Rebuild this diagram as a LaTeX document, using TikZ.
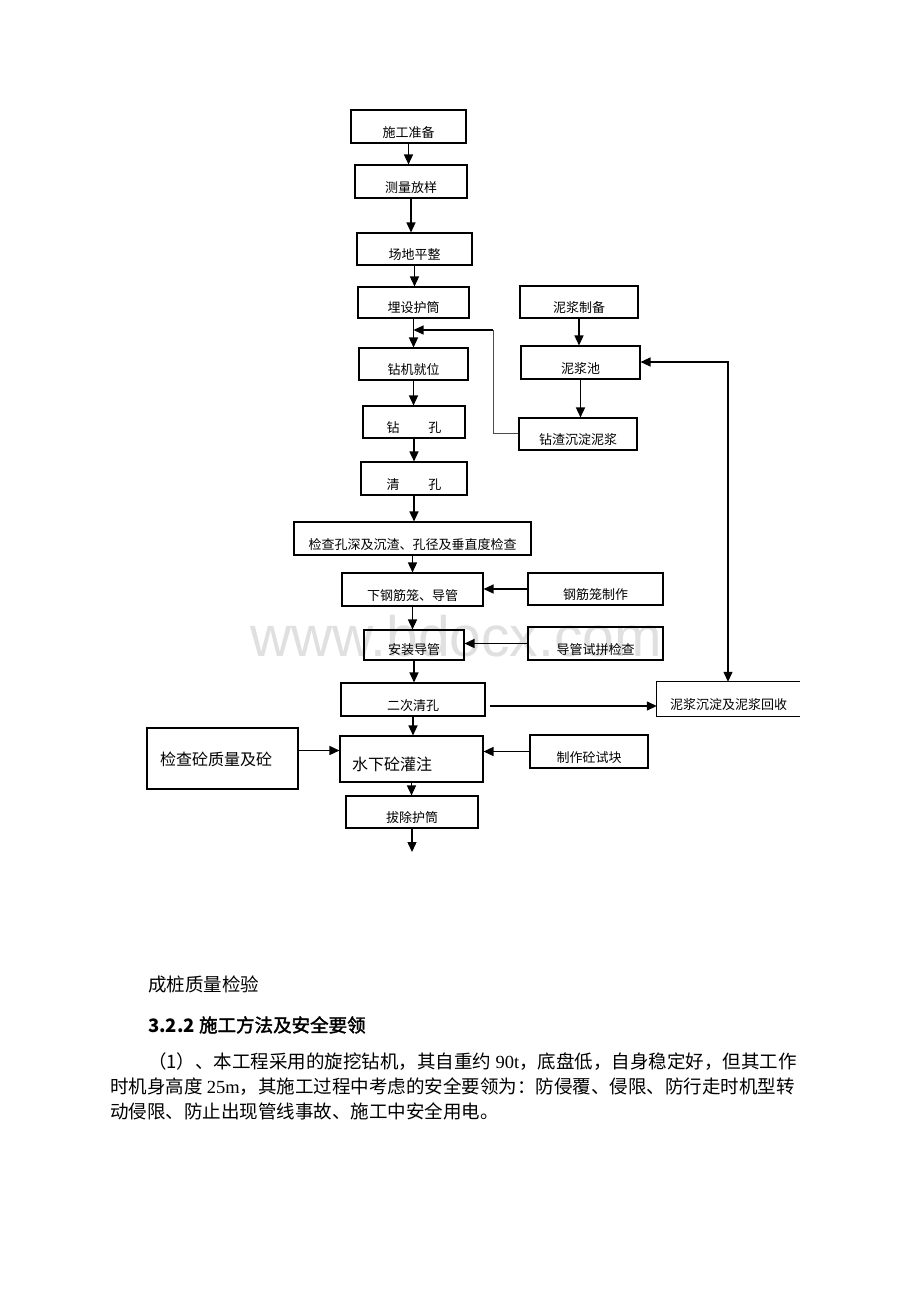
\documentclass[tikz,border=0pt]{standalone}
\usepackage{fontspec}
\setmainfont{Liberation Serif}
\newfontfamily\cjk{Noto Sans CJK SC}
\newfontfamily\cjkb[FakeBold=2]{Noto Sans CJK SC}
\newfontfamily\wmfont{Liberation Sans}
\usetikzlibrary{arrows.meta,calc}
\tikzset{
  bx/.style={draw=black, line width=1.1pt, inner sep=0pt},
  txt/.style={font=\cjk\fontsize{13pt}{15pt}\selectfont, inner sep=0pt},
  arr/.style={draw=black, line width=1.4pt, -{Triangle[length=10pt,width=9pt]}},
  dbl/.style={draw=black, line width=1.2pt, {Triangle[length=10pt,width=9pt]}-{Triangle[length=10pt,width=9pt]}},
  thinl/.style={draw=black!70, line width=0.6pt},
  para/.style={font=\cjk\fontsize{18.5pt}{21pt}\selectfont, inner sep=0pt, anchor=base west}
}
\begin{document}
\begin{tikzpicture}[x=1pt,y=-1pt]
\useasboundingbox[fill=white] (0,0) rectangle (920,1302);
% watermark
\node[font=\wmfont\fontsize{57pt}{60pt}\selectfont, text=black!12, anchor=base west, inner sep=0pt] (wm) at (250,656) {www.bdocx.com};

% main column
\node[bx, minimum width=115pt, minimum height=33pt] (b1) at (408.5,126.5) {};
\node[bx, minimum width=112pt, minimum height=33pt] (b2) at (411,181.5) {};
\node[bx, minimum width=115pt, minimum height=32pt] (b3) at (414.5,249) {};
\node[bx, minimum width=111pt, minimum height=31pt] (b4) at (413.5,302.5) {};
\node[bx, minimum width=109pt, minimum height=32pt] (b5) at (413.5,364) {};
\node[bx, minimum width=102pt, minimum height=32pt] (b6) at (414,422) {};
\node[bx, minimum width=106pt, minimum height=33pt] (b7) at (414,478.5) {};
\node[bx, minimum width=237pt, minimum height=33pt] (b8) at (412.5,538.5) {};
\node[bx, minimum width=141pt, minimum height=33pt] (b9) at (412.5,589.5) {};
\node[bx, minimum width=100pt, minimum height=30pt] (b10) at (414,645) {};
\node[bx, minimum width=144pt, minimum height=33pt] (b11) at (413,699.5) {};
\node[bx, minimum width=143pt, minimum height=46pt] (b12) at (411.5,759) {};
\node[bx, minimum width=132pt, minimum height=32pt] (b13) at (412,812) {};

% right column (mud)
\node[bx, minimum width=118pt, minimum height=32pt] (r1) at (579,302) {};
\node[bx, minimum width=119pt, minimum height=33pt] (r2) at (580.5,362.5) {};
\node[bx, minimum width=118pt, minimum height=32pt] (r3) at (578,434) {};

% side boxes
\node[bx, minimum width=135pt, minimum height=32pt] (s1) at (595.5,589) {};
\node[bx, minimum width=135pt, minimum height=33pt] (s2) at (595.5,643.5) {};
\node[bx, minimum width=118pt, minimum height=33pt] (s4) at (589,751.5) {};
\node[bx, minimum width=151pt, minimum height=61pt] (lb) at (222.5,758.5) {};
% open-ended box on the right
\node[minimum width=143pt, minimum height=34pt, inner sep=0pt] (s3) at (728.5,699) {};
\draw[line width=1.1pt] (s3.north east) -- (s3.north west) -- (s3.south west) -- (s3.south east);

% texts
\node[txt] (t1) at ([yshift=11pt]b1.south) {施工准备};
\node[txt] (t2) at ([yshift=11pt]b2.south) {测量放样};
\node[txt] (t3) at ([yshift=11pt]b3.south) {场地平整};
\node[txt] (t4) at ([yshift=11pt]b4.south) {埋设护筒};
\node[txt] (t5) at ([yshift=11pt]b5.south) {钻机就位};
\node[txt] (t6) at ([yshift=11pt]b6.south) {钻\hspace{2.2em}孔};
\node[txt] (t7) at ([yshift=11pt]b7.south) {清\hspace{2.2em}孔};
\node[txt] (t8) at ([yshift=11pt]b8.south) {检查孔深及沉渣、孔径及垂直度检查};
\node[txt] (t9) at ([yshift=11pt]b9.south) {下钢筋笼、导管};
\node[txt] (t10) at ([yshift=11pt]b10.south) {安装导管};
\node[txt] (t11) at ([yshift=11pt]b11.south) {二次清孔};
\node[txt] (t13) at ([yshift=11pt]b13.south) {拔除护筒};
\node[txt] (tr1) at ([yshift=11pt]r1.south) {泥浆制备};
\node[txt] (tr2) at ([yshift=11pt]r2.south) {泥浆池};
\node[txt] (tr3) at ([yshift=11pt]r3.south) {钻渣沉淀泥浆};
\node[txt] (ts1) at ([yshift=11pt]s1.south) {钢筋笼制作};
\node[txt] (ts2) at ([yshift=11pt]s2.south) {导管试拼检查};
\node[txt] (ts3) at ([yshift=12pt]s3.south) {泥浆沉淀及泥浆回收};
\node[txt] (ts4) at ([yshift=11pt]s4.south) {制作砼试块};
\node[txt, anchor=west, font=\cjk\fontsize{16pt}{18pt}\selectfont] (t12) at (352,764) {水下砼灌注};
\node[txt, anchor=west, font=\cjk\fontsize{16pt}{18pt}\selectfont] (tl) at (160,759) {检查砼质量及砼};

% main arrows
\draw[arr] (b1.south) -- (b1.south |- b2.north);
\draw[arr] (b2.south) -- (b2.south |- b3.north);
\draw[arr] (b3.south) -- (b3.south |- b4.north);
\draw[arr] (b4.south) -- (b4.south |- b5.north);
\draw[arr] (b5.south) -- (b5.south |- b6.north);
\draw[arr] (b6.south) -- (b6.south |- b7.north);
\draw[arr] (b7.south) -- (b7.south |- b8.north);
\draw[arr] (b8.south) -- (b8.south |- b9.north);
\draw[arr] (b9.south) -- (b9.south |- b10.north);
\draw[arr] (b10.south) -- (b10.south |- b11.north);
\draw[arr] (b11.south) -- (b11.south |- b12.north);
\draw[arr] (b12.south) -- (b12.south |- b13.north);
\coordinate (endc) at (412,852);
\draw[arr] (b13.south) -- (endc);

% right column arrows
\draw[arr] (r1.south) -- (r1.south |- r2.north);
\draw[arr] (r2.south) -- (r2.south |- r3.north);

% return line from mud tank to main line
\coordinate (fb1) at (493,330);
\coordinate (fb2) at (493,433);
\draw[thinl] (r3.west |- fb2) -- (fb2) -- (fb1);
\draw[arr, line width=1.1pt] (fb1) -- (b4.south |- fb1);

% side arrows
\draw[arr] (s1.west) -- (s1.west -| b9.east);
\draw[arr] (s2.west) -- (s2.west -| b10.east);
\draw[arr] (s4.west) -- (s4.west -| b12.east);
\draw[arr] ([yshift=8pt]lb.east) coordinate (la) -- (la -| b12.west);
\coordinate (c11) at (490,706);
\draw[arr] (c11) -- (c11 -| s3.west);
\coordinate (cr) at (728,362);
\draw[dbl] (s3.north -| cr) -- (cr) -- (cr -| r2.east);

% text below
\node[para] (p0) at (148,991) {成桩质量检验};
\node[para] (p1) at (148,1032) {{\bfseries 3.2.2} {\cjkb 施工方法及安全要领}};
\node[para] (p2) at (148,1068) {（1）、本工程采用的旋挖钻机，其自重约 {\rmfamily 90t}，底盘低，自身稳定好，但其工作};
\node[para] (p3) at (110,1093) {时机身高度 {\rmfamily 25m}，其施工过程中考虑的安全要领为：防侵覆、侵限、防行走时机型转};
\node[para] (p4) at (110,1118) {动侵限、防止出现管线事故、施工中安全用电。};
\end{tikzpicture}
\end{document}
